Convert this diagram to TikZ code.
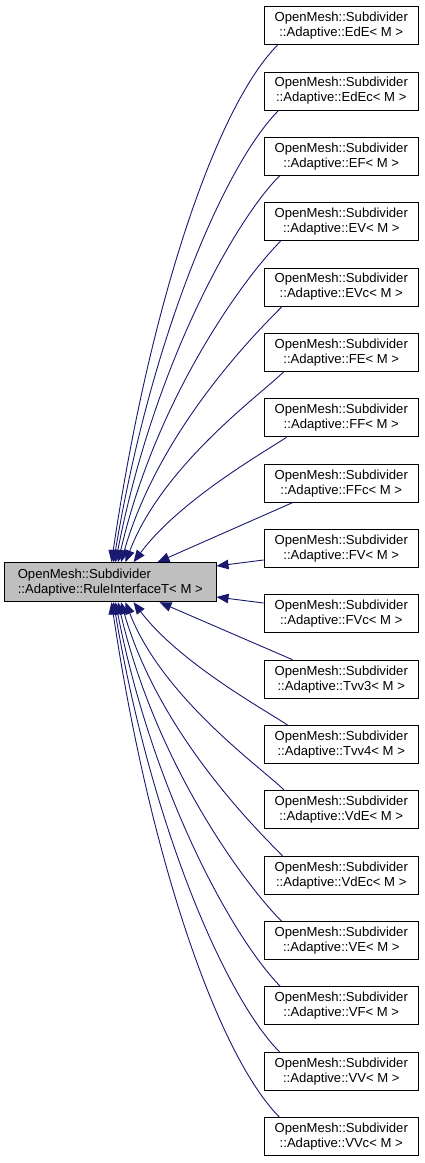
\documentclass[tikz,border=0pt]{standalone}
\usepackage{fontspec}
\setmainfont{Liberation Sans}
\usetikzlibrary{arrows.meta}
\definecolor{edgeblue}{HTML}{191970}
\definecolor{basegray}{HTML}{BFBFBF}
\begin{document}
\begin{tikzpicture}[x=1pt,y=-1pt,
  lbl/.style={font=\fontsize{13.1}{15}\selectfont},
  box/.style={lbl, draw=black, line width=1pt, fill=white, minimum width=154.5pt, minimum height=38pt, inner sep=0pt, align=center},
  basebox/.style={lbl, draw=black, line width=1pt, fill=basegray, minimum width=211.5pt, minimum height=39pt, inner sep=0pt, align=left},
  edge/.style={draw=edgeblue, line width=0.9pt, -{Triangle[length=12pt,width=9.5pt]}}]
\useasboundingbox (0,0) rectangle (425,1163);
\node[basebox] (b) at (110.25,582.2) {OpenMesh::Subdivider\\::Adaptive::RuleInterfaceT< M >};
\node[box] (n0) at (341.25,25.7) {OpenMesh::Subdivider\\::Adaptive::EdE< M >};
\node[box] (n1) at (341.25,91.05) {OpenMesh::Subdivider\\::Adaptive::EdEc< M >};
\node[box] (n2) at (341.25,156.4) {OpenMesh::Subdivider\\::Adaptive::EF< M >};
\node[box] (n3) at (341.25,221.75) {OpenMesh::Subdivider\\::Adaptive::EV< M >};
\node[box] (n4) at (341.25,287.1) {OpenMesh::Subdivider\\::Adaptive::EVc< M >};
\node[box] (n5) at (341.25,352.45) {OpenMesh::Subdivider\\::Adaptive::FE< M >};
\node[box] (n6) at (341.25,417.8) {OpenMesh::Subdivider\\::Adaptive::FF< M >};
\node[box] (n7) at (341.25,483.15) {OpenMesh::Subdivider\\::Adaptive::FFc< M >};
\node[box] (n8) at (341.25,548.5) {OpenMesh::Subdivider\\::Adaptive::FV< M >};
\node[box] (n9) at (341.25,613.85) {OpenMesh::Subdivider\\::Adaptive::FVc< M >};
\node[box] (n10) at (341.25,679.2) {OpenMesh::Subdivider\\::Adaptive::Tvv3< M >};
\node[box] (n11) at (341.25,744.55) {OpenMesh::Subdivider\\::Adaptive::Tvv4< M >};
\node[box] (n12) at (341.25,809.9) {OpenMesh::Subdivider\\::Adaptive::VdE< M >};
\node[box] (n13) at (341.25,875.25) {OpenMesh::Subdivider\\::Adaptive::VdEc< M >};
\node[box] (n14) at (341.25,940.6) {OpenMesh::Subdivider\\::Adaptive::VE< M >};
\node[box] (n15) at (341.25,1005.95) {OpenMesh::Subdivider\\::Adaptive::VF< M >};
\node[box] (n16) at (341.25,1071.3) {OpenMesh::Subdivider\\::Adaptive::VV< M >};
\node[box] (n17) at (341.25,1136.65) {OpenMesh::Subdivider\\::Adaptive::VVc< M >};
% upper edges
\draw[edge] ([xshift=14pt]n0.south west) .. controls (217.9,104.8) and (150.2,298.5) .. ([xshift=107.5pt]b.north west);
\draw[edge] ([xshift=15pt]n1.south west) .. controls (226.5,162.6) and (152,331.8) .. ([xshift=109.5pt]b.north west);
\draw[edge] ([xshift=16pt]n2.south west) .. controls (235.1,220.3) and (153.7,365.2) .. ([xshift=111.5pt]b.north west);
\draw[edge] ([xshift=17pt]n3.south west) .. controls (243.7,278.1) and (155.9,398.5) .. ([xshift=114pt]b.north west);
\draw[edge] ([xshift=18.5pt]n4.south west) .. controls (252.7,335.9) and (158.5,431.8) .. ([xshift=117pt]b.north west);
\draw[edge] ([xshift=20pt]n5.south west) .. controls (261.8,393.6) and (162.3,465.2) .. ([xshift=121.5pt]b.north west);
\draw[edge] ([xshift=23pt]n6.south west) .. controls (266,451) and (180,499.8) .. ([xshift=129.5pt]b.north west);
\draw[edge] ([xshift=29pt]n7.south west) -- ([xshift=153.5pt]b.north west);
% side edges
\draw[edge] ([yshift=-11.5pt]n8.west) -- ([yshift=16.2pt]b.east);
\draw[edge] ([yshift=10.85pt]n9.west) -- ([yshift=-14.8pt]b.east);
% lower edges
\draw[edge] ([xshift=29pt]n10.north west) -- ([xshift=155.5pt]b.south west);
\draw[edge] ([xshift=24pt]n11.north west) .. controls (267,711) and (180,663.6) .. ([xshift=129.5pt]b.south west);
\draw[edge] ([xshift=21pt]n12.north west) .. controls (263.1,769) and (162.6,698.2) .. ([xshift=121.5pt]b.south west);
\draw[edge] ([xshift=19pt]n13.north west) .. controls (253.5,826.7) and (158.6,731.5) .. ([xshift=117pt]b.south west);
\draw[edge] ([xshift=18pt]n14.north west) .. controls (244.9,884.5) and (156.1,764.8) .. ([xshift=114pt]b.south west);
\draw[edge] ([xshift=17pt]n15.north west) .. controls (236.3,942.3) and (154,798.2) .. ([xshift=111.5pt]b.south west);
\draw[edge] ([xshift=16pt]n16.north west) .. controls (227.7,1000) and (152.2,831.5) .. ([xshift=109.5pt]b.south west);
\draw[edge] ([xshift=16pt]n17.north west) .. controls (220.1,1057.8) and (150.6,864.8) .. ([xshift=107.5pt]b.south west);
\end{tikzpicture}
\end{document}
